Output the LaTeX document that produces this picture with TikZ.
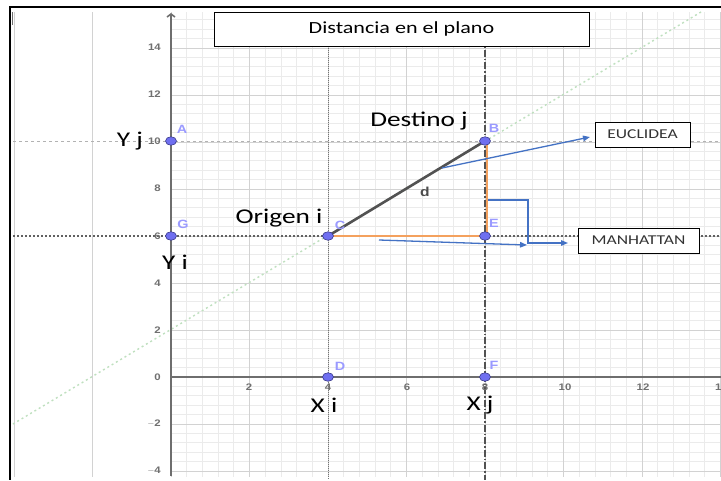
\documentclass[tikz,border=0pt]{standalone}
\usepackage{fontspec}
\setmainfont{Carlito}[FakeStretch=1.3]
\newfontfamily\tickfont{Liberation Sans}[FakeStretch=1.2]
\usetikzlibrary{arrows.meta,shapes.geometric}
\definecolor{minorgrid}{HTML}{EBEBEB}
\definecolor{majorgrid}{HTML}{D2D2D2}
\definecolor{axisgray}{HTML}{6E6E6E}
\definecolor{ticktext}{HTML}{707070}
\definecolor{ptfill}{HTML}{6F6FF0}
\definecolor{ptdraw}{HTML}{3A3A8C}
\definecolor{ptlab}{HTML}{9A9AFF}
\definecolor{annblue}{HTML}{4472C4}
\definecolor{segorange}{HTML}{F4A15E}
\definecolor{greendot}{HTML}{BFE0BF}
\tikzset{
  minorline/.style={draw=minorgrid, line width=0.7pt},
  majorline/.style={draw=majorgrid, line width=1pt},
  axisline/.style={draw=axisgray, line width=1.6pt},
  ticklab/.style={text=ticktext, font=\tickfont\bfseries\fontsize{9.5}{10}\selectfont, inner sep=0pt},
  pt/.style={ellipse, draw=ptdraw, fill=ptfill, line width=0.6pt, minimum width=11pt, minimum height=8.5pt, inner sep=0pt},
  ptlabel/.style={text=ptlab, font=\tickfont\bfseries\fontsize{12}{13}\selectfont, inner sep=0pt},
  biglab/.style={text=black, font=\fontsize{21}{24}\selectfont, inner sep=0pt},
  tagbox/.style={draw=black, fill=white, line width=0.9pt, text=black!80, font=\fontsize{13.5}{15}\selectfont, inner sep=0pt},
  annarrow/.style={draw=annblue, line width=1.3pt, -{Triangle[length=7pt,width=5.5pt]}},
}
\begin{document}
\begin{tikzpicture}[x=1pt,y=-1pt]
\useasboundingbox (0,0) rectangle (721,480);
\fill[white] (0,0) rectangle (721,480);

% grid
\begin{scope}
\clip (13,12) rectangle (721,476);
\begin{scope}[shift={(171,377)}, x=39.25pt, y=23.5pt]
  \foreach \i in {0,...,36} \draw[minorline] ({\i*0.4},-4.8) -- ({\i*0.4},15.6);
  \foreach \j in {-12,...,39} \draw[minorline] (0,{\j*0.4}) -- (14.4,{\j*0.4});
  \foreach \i in {-4,-2,...,14} \draw[majorline] (\i,-4.8) -- (\i,15.6);
  \foreach \j in {-4,-2,...,14} \draw[majorline] (0,\j) -- (14.4,\j);
\end{scope}
\end{scope}
\draw[draw=axisgray, line width=1.2pt] (12.5,12) -- (12.5,25);

% reference lines
\draw[draw=black!30, line width=1pt, dash pattern=on 3pt off 3pt] (13,141) -- (721,141);
\draw[draw=black!62, line width=1.6pt, dash pattern=on 2pt off 2pt] (13,236) -- (721,236);
\draw[draw=black!55, line width=0.9pt, dash pattern=on 1pt off 1pt] (328,12) -- (328,480);
\draw[draw=greendot, line width=1.4pt, dash pattern=on 2pt off 3pt] (13,424) -- (701,12);

% axes
\draw[axisline] (171,377) -- (721,377);
\draw[axisline, -{Straight Barb[length=3pt,width=8pt]}] (171,476) -- (171,13);

% vertical dash-dot at x=8
\draw[draw=black!68, line width=1.3pt, dash pattern=on 7pt off 2pt on 1.5pt off 2pt] (485,12) -- (485,480);

% tick labels
\foreach \v/\py in {14/47,12/94,10/141,8/188,6/236,4/283,2/330,0/377,{$-$2}/424,{$-$4}/471}
  \node[ticklab, anchor=east] (ty\py) at (161,\py) {\v};
\foreach \v/\px in {2/249,4/328,6/407,8/485,10/565,12/643}
  \node[ticklab] (tx\px) at (\px,387) {\v};
\node[ticklab, anchor=west] (tx14) at (715,387) {1};

% segments
\coordinate (cC) at (328,236);
\coordinate (cB) at (485,141);
\coordinate (cE) at (485,236);
\draw[draw=segorange, line width=1.3pt] (cC) -- (cE);
\draw[draw=segorange, line width=1.3pt] ([xshift=2pt]cE) -- ([xshift=2pt]cB);
\draw[draw=black!68, line width=2.6pt] (cC) -- (cB);

% points
\node[pt] (A) at (171,141) {};
\node[pt] (G) at (171,236) {};
\node[pt] (C) at (cC) {};
\node[pt] (B) at (cB) {};
\node[pt] (E) at (cE) {};
\node[pt] (D) at (328,377) {};
\node[pt] (F) at (485,377) {};

\node[ptlabel] (lA) at (182,129) {A};
\node[ptlabel] (lG) at (183,224) {G};
\node[ptlabel] (lC) at (340,225) {C};
\node[ptlabel] (lB) at (494,128) {B};
\node[ptlabel] (lE) at (494,223) {E};
\node[ptlabel] (lD) at (340,366) {D};
\node[ptlabel] (lF) at (494,365) {F};
\node[text=black!70, font=\tickfont\bfseries\fontsize{13}{14}\selectfont, inner sep=0pt] (dlab) at (425,192) {d};

% big labels
\node[biglab] (Yj) at (130,141) {Y j};
\node[biglab] (Yi) at (175,262) {Y i};
\node[biglab] (orig) at (279,218) {Origen i};
\node[biglab] (dest) at (419,121) {Destino j};
\node[biglab] (Xi) at (324,405) {X i};
\node[biglab] (Xj) at (480,405) {X j};

% title
\node[draw=black, fill=white, line width=1pt, minimum width=375pt, minimum height=34pt, inner sep=0pt,
      font=\fontsize{17}{20}\selectfont] (title) at (401.5,29) {Distancia en el plano};

% tag boxes
\node[tagbox, minimum width=95pt, minimum height=25pt] (euc) at (642.5,134.5) {EUCLIDEA};
\node[tagbox, minimum width=121pt, minimum height=25pt] (man) at (638.5,240.5) {MANHATTAN};

% annotation arrows
\coordinate (e0) at (442,168);
\coordinate (e1) at (590,137);
\draw[annarrow] (e0) -- (e1);
\coordinate (m0) at (488,200);
\coordinate (m1) at (528,200);
\coordinate (m2) at (528,243);
\coordinate (m3) at (568,243);
\draw[annarrow] (m0) -- (m1) -- (m2) -- (m3);
\coordinate (n0) at (379,240);
\coordinate (n1) at (527,245);
\draw[annarrow] (n0) -- (n1);

% frame
\draw[black, line width=1.6pt] (721,7) -- (9.8,7) -- (9.8,480);
\end{tikzpicture}
\end{document}
